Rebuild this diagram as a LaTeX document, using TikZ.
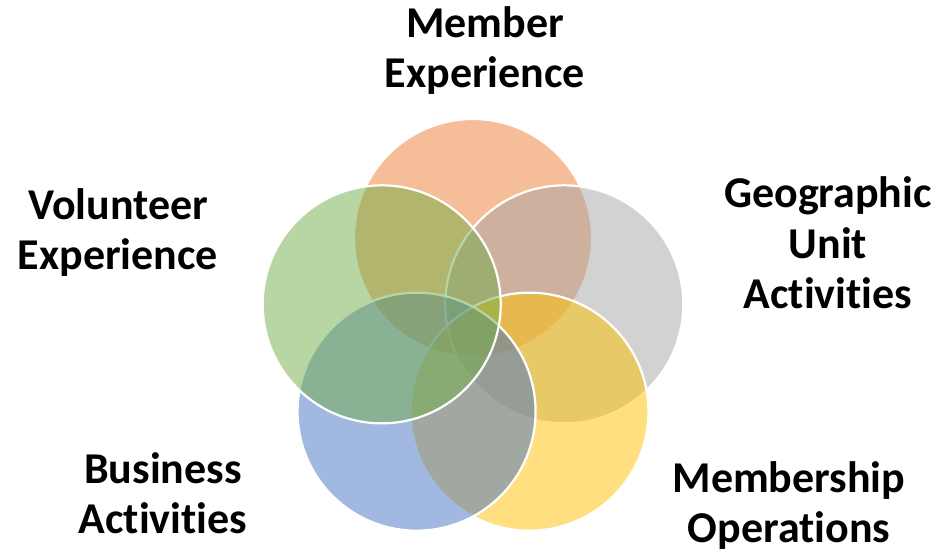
\documentclass[tikz,border=0pt]{standalone}
\usepackage{fontspec}
\setmainfont{Carlito}[Ligatures={NoCommon}]
\definecolor{cOrange}{HTML}{ED7D31}
\definecolor{cGray}{HTML}{A5A5A5}
\definecolor{cYellow}{HTML}{FFC000}
\definecolor{cBlue}{HTML}{4472C4}
\definecolor{cGreen}{HTML}{70AD47}
\begin{document}
\begin{tikzpicture}[x=1pt,y=1pt,
  venn/.style={circle, minimum size=238pt, inner sep=0pt, draw=white, line width=2.2pt, fill opacity=0.5},
  lbl/.style={font=\bfseries\fontsize{44}{50}\selectfont, align=center, anchor=base, inner sep=0pt, text=black}]
\useasboundingbox (0,0) rectangle (941,552);
\coordinate (ctr) at (473,218);
\node[venn, fill=cOrange] (orange) at ([shift={(90:96)}]ctr) {};
\node[venn, fill=cGray]   (gray)   at ([shift={(18:96)}]ctr) {};
\node[venn, fill=cYellow] (yellow) at ([shift={(-54:96)}]ctr) {};
\node[venn, fill=cBlue]   (blue)   at ([shift={(-126:96)}]ctr) {};
\node[venn, fill=cGreen]  (green)  at ([shift={(162:96)}]ctr) {};
\node[lbl] (tme) at (485,464) {Member\\Experience};
\node[lbl] (tve) at (118,282) {Volunteer\\Experience};
\node[lbl] (tgu) at (828,244) {Geographic\\Unit\\Activities};
\node[lbl] (tba) at (163,19) {Business\\Activities};
\node[lbl] (tmo) at (789,10) {Membership\\Operations};
\end{tikzpicture}
\end{document}
